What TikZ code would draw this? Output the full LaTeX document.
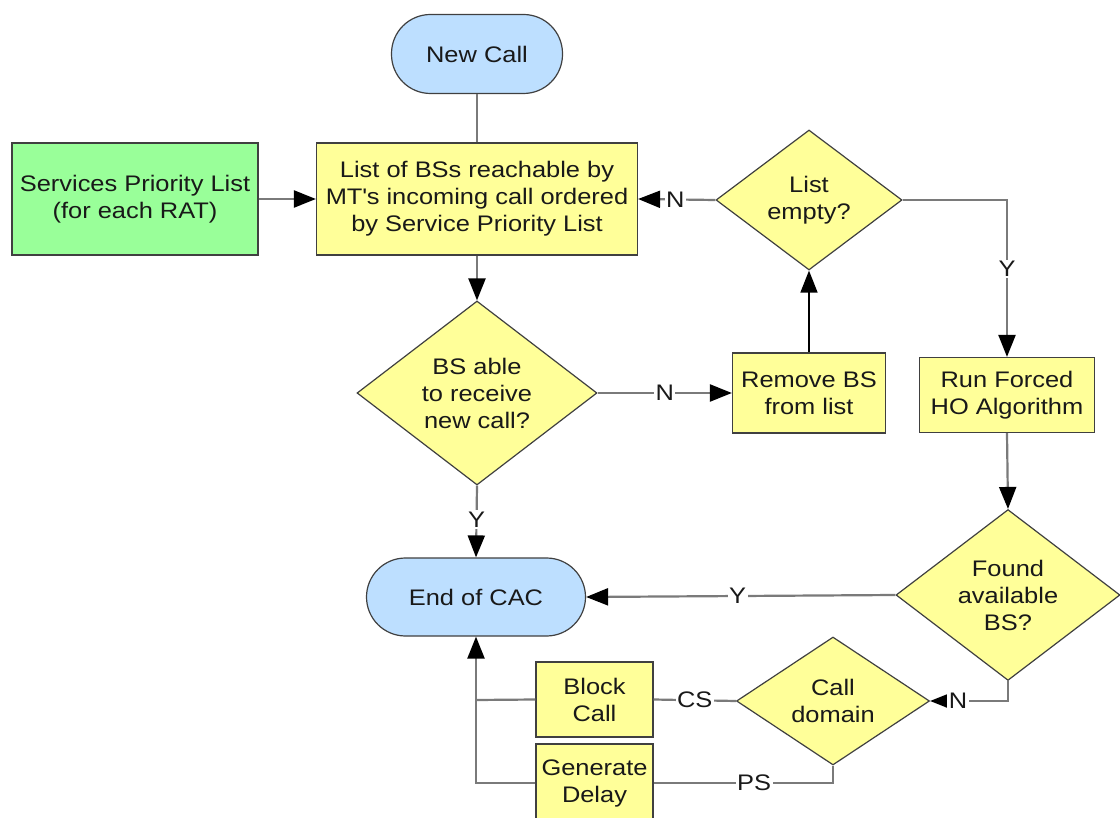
\documentclass[tikz,border=0pt]{standalone}
\usepackage{fontspec}
\setmainfont{Liberation Sans}[FakeStretch=1.13]
\usetikzlibrary{shapes.geometric,arrows.meta}
\definecolor{procyellow}{HTML}{FFFF99}
\definecolor{listgreen}{HTML}{99FF99}
\definecolor{termblue}{HTML}{BDDFFF}
\definecolor{linegray}{HTML}{7A7A7A}
\begin{document}
\begin{tikzpicture}[x=1pt,y=-1pt,
  font=\fontsize{22.5}{27}\selectfont,
  every node/.style={text=black!90},
  procbox/.style={draw=black!75, line width=1.2pt, fill=procyellow, align=center, inner sep=0pt},
  decision/.style={diamond, draw=black!75, line width=1.2pt, fill=procyellow, align=center, inner sep=0pt},
  terminal/.style={draw=black!75, line width=1.2pt, fill=termblue, rounded corners=39pt, align=center, inner sep=0pt},
  conn/.style={draw=linegray, line width=2.2pt},
  flow/.style={conn, -{Triangle[length=22pt,width=17pt,color=black]}},
  lbl/.style={fill=white, inner sep=1.5pt}
]
\clip (0,0) rectangle (1120,818);
\fill[white] (0,0) rectangle (1120,818);

% Nodes
\node[terminal, minimum width=171pt, minimum height=79pt] (nc) at (477,54) {New Call};
\node[procbox, fill=listgreen, minimum width=246pt, minimum height=112pt] (spl) at (135,199)
  {Services Priority List\\(for each RAT)};
\node[procbox, minimum width=321pt, minimum height=112pt] (lst) at (477,199)
  {List of BSs reachable by\\MT\textquotesingle s incoming call ordered\\by Service Priority List};
\node[decision, minimum width=186pt, minimum height=140pt] (empty) at (809,200) {List\\empty?};
\node[decision, minimum width=240pt, minimum height=184pt] (able) at (477,393)
  {BS able\\to receive\\new call?};
\node[procbox, minimum width=153pt, minimum height=80pt] (remove) at (809,393) {Remove BS\\from list};
\node[procbox, minimum width=175pt, minimum height=75pt] (run) at (1007,395) {Run Forced\\HO Algorithm};
\node[terminal, minimum width=219pt, minimum height=78pt] (endcac) at (476,597) {End of CAC};
\node[decision, minimum width=224pt, minimum height=165pt] (found) at (1008,595)
  {Found\\available\\BS?};
\node[decision, minimum width=193pt, minimum height=128pt] (domain) at (833,701) {Call\\domain};
\node[procbox, minimum width=117pt, minimum height=75pt] (block) at (594.5,699.5) {Block\\Call};
\node[procbox, minimum width=117pt, minimum height=78pt] (gen) at (594.5,783) {Generate\\Delay};

\coordinate (join) at (476,700);

% Connectors
\draw[conn] (nc) -- (lst);
\draw[flow] (spl) -- (lst);
\draw[flow] (lst) -- (able);
\draw[flow] (able.east) -- node[lbl, pos=0.5] {N} (remove.west);
\draw[flow, draw=black, line width=1.5pt] (remove.north) -- (empty.south);
\draw[flow] (empty.west) -- node[lbl, pos=0.52] {N} (lst.east);
\draw[flow] (empty.east) -| node[lbl, pos=0.72] {Y} (run.north);
\draw[flow] (run.south) -- (found.north);
\draw[flow] (able.south) -- node[lbl, pos=0.47] {Y} (endcac.north);
\draw[flow] (found.west) -- node[lbl, pos=0.51] {Y} (endcac.east);
\draw[flow] (found.south) |- node[lbl, pos=0.82] {N} (domain.east);
\draw[conn] (domain.west) -- node[lbl, pos=0.5] {CS} (block.east);
\draw[conn] (domain.south) |- node[lbl, pos=0.72] {PS} (gen.east);
\draw[conn] (block.west) -- (join);
\draw[flow] (gen.west) -| (endcac.south);
\end{tikzpicture}
\end{document}
